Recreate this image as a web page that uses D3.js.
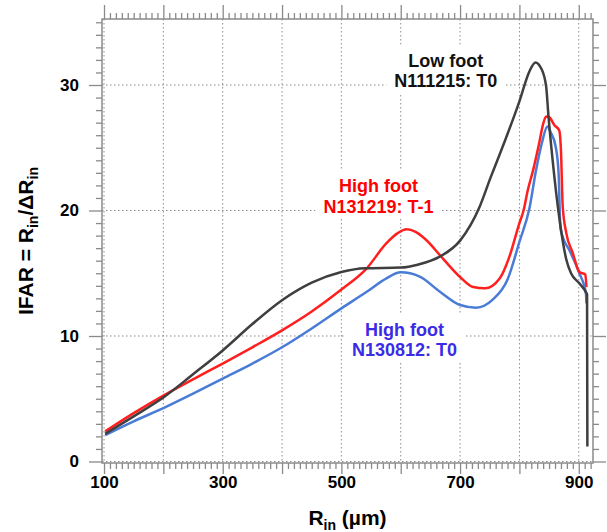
<!DOCTYPE html>
<html>
<head>
<meta charset="utf-8">
<script src="https://cdn.jsdelivr.net/npm/d3@7"></script>
<style>
    body { margin: 0; background: #fff; }
    svg { display: block; font-family: "Liberation Sans", Arial, sans-serif; }
</style>
</head>
<body>
<svg id="chart" width="607" height="532"></svg>
<script>
// IFAR vs inner radius, three shots

// Low foot N111215: T0
const rLowFoot = [102, 150, 200, 250, 300, 350, 400, 450, 500, 540, 600, 630, 665, 700, 733, 752, 767, 800, 817, 827, 837, 845, 849, 856, 867, 879, 887, 901, 912, 914, 914.5];
const ifarLowFoot = [2.2, 3.6, 5.1, 6.95, 8.85, 10.95, 12.85, 14.25, 15.1, 15.4, 15.45, 15.7, 16.3, 17.6, 20.3, 22.7, 24.5, 28.7, 31.1, 31.8, 31.3, 29.9, 27.5, 24.0, 19.5, 16.1, 15.0, 14.2, 13.5, 13.3, 1.2];

// High foot N131219: T-1
const rHighFootT1 = [102, 150, 200, 250, 300, 350, 400, 450, 500, 542, 576, 595, 610, 625, 643, 666, 700, 722, 742, 767, 783, 800, 807, 814, 823, 833, 840, 845, 851, 859, 867, 870, 873, 879, 890, 901, 911, 913];
const ifarHighFootT1 = [2.4, 3.85, 5.25, 6.55, 7.8, 9.1, 10.45, 11.95, 13.7, 15.35, 17.4, 18.2, 18.5, 18.3, 17.65, 16.45, 14.7, 13.9, 13.8, 14.6, 16.3, 19.0, 20.0, 21.6, 23.2, 25.3, 26.9, 27.5, 27.4, 26.8, 26.4, 24.8, 20.3, 18.2, 16.6, 15.1, 14.9, 13.9];

// High foot N130812: T0
const rHighFootT0 = [102, 150, 200, 250, 300, 350, 400, 450, 500, 542, 576, 600, 632, 666, 700, 727, 755, 780, 800, 817, 828, 838, 847, 853, 861, 866, 869, 873, 884, 901, 912, 913];
const ifarHighFootT0 = [2.1, 3.2, 4.25, 5.4, 6.6, 7.8, 9.1, 10.6, 12.2, 13.5, 14.6, 15.07, 14.73, 13.53, 12.47, 12.26, 12.9, 14.5, 17.5, 20.2, 23.2, 25.4, 26.7, 26.2, 25.1, 23.0, 18.7, 17.9, 16.85, 15.0, 13.4, 12.6];

// axis labels and annotation texts
const xTickLabels = [100, 300, 500, 700, 900];
const yTickLabels = [0, 10, 20, 30];
const shotLabels = [
    ['Low foot', 'N111215: T0'],
    ['High foot', 'N131219: T-1'],
    ['High foot', 'N130812: T0']
];

const svg = d3.select('#chart');
const margin = { top: 19, right: 14, bottom: 69, left: 102 };
const width = 607 - margin.left - margin.right;
const height = 532 - margin.top - margin.bottom;

const g = svg.append('g')
    .attr('transform', `translate(${margin.left}, ${margin.top})`);

const xScale = d3.scaleLinear().domain([96.6, 924]).range([0, width]);
const yScale = d3.scaleLinear().domain([-0.12, 35.26]).range([height, 0]);

const xMajor = d3.range(100, 901, 100);
const xMinor = d3.range(100, 921, 10).filter(d => d % 100 !== 0);
const yMajor = d3.range(0, 31, 10);
const yMinor = d3.range(0, 36, 1).filter(d => d % 10 !== 0);

// dotted grid
g.append('g').selectAll('line')
    .data(xMajor)
    .join('line')
    .attr('x1', d => xScale(d)).attr('x2', d => xScale(d))
    .attr('y1', 0).attr('y2', height)
    .attr('stroke', '#8c8c8c')
    .attr('stroke-width', 1)
    .attr('stroke-dasharray', '1.5,2.5');

g.append('g').selectAll('line')
    .data(yMajor)
    .join('line')
    .attr('x1', 0).attr('x2', width)
    .attr('y1', d => yScale(d)).attr('y2', d => yScale(d))
    .attr('stroke', '#8c8c8c')
    .attr('stroke-width', 1)
    .attr('stroke-dasharray', '1.5,2.5');

// ticks on all four sides
function styleAxis(sel) {
    sel.select('.domain').remove();
    sel.selectAll('.tick line').attr('stroke', '#8a8a8a').attr('stroke-width', 1.3);
    sel.selectAll('.tick text')
        .attr('fill', '#000')
        .style('font-size', '17px')
        .style('font-weight', 'bold')
        .style('font-family', '"Liberation Sans", Arial, sans-serif');
}

g.append('g')
    .attr('transform', `translate(0, ${height})`)
    .call(d3.axisBottom(xScale).tickValues(xMajor).tickSize(11).tickPadding(2)
        .tickFormat(d => xTickLabels.includes(d) ? d : ''))
    .call(styleAxis);
g.append('g')
    .attr('transform', `translate(0, ${height})`)
    .call(d3.axisBottom(xScale).tickValues(xMinor).tickSize(6).tickFormat(''))
    .call(styleAxis);
g.append('g')
    .call(d3.axisTop(xScale).tickValues(xMajor).tickSize(14).tickFormat(''))
    .call(styleAxis);
g.append('g')
    .call(d3.axisTop(xScale).tickValues(xMinor).tickSize(6).tickFormat(''))
    .call(styleAxis);

g.append('g')
    .call(d3.axisLeft(yScale).tickValues(yMajor).tickSize(13).tickPadding(10)
        .tickFormat(d => yTickLabels.includes(d) ? d : ''))
    .call(styleAxis);
g.append('g')
    .call(d3.axisLeft(yScale).tickValues(yMinor).tickSize(6).tickFormat(''))
    .call(styleAxis);
g.append('g')
    .attr('transform', `translate(${width}, 0)`)
    .call(d3.axisRight(yScale).tickValues(yMajor).tickSize(13).tickFormat(''))
    .call(styleAxis);
g.append('g')
    .attr('transform', `translate(${width}, 0)`)
    .call(d3.axisRight(yScale).tickValues(yMinor).tickSize(6).tickFormat(''))
    .call(styleAxis);

// frame
g.append('rect')
    .attr('width', width)
    .attr('height', height)
    .attr('fill', 'none')
    .attr('stroke', '#8a8a8a')
    .attr('stroke-width', 1.5);

// shot annotations, white box behind the text hides the grid
const annotations = [
    { lines: shotLabels[0], color: '#111111', x: 676, y: 31.46 },
    { lines: shotLabels[1], color: '#ff0000', x: 562.5, y: 21.47 },
    { lines: shotLabels[2], color: '#3b2be6', x: 606.4, y: 10.0 }
];

annotations.forEach(a => {
    const box = g.append('g');
    const txt = box.append('text')
        .attr('x', xScale(a.x))
        .attr('y', yScale(a.y))
        .attr('text-anchor', 'middle')
        .attr('fill', a.color)
        .style('font-size', '18px')
        .style('font-weight', 'bold');
    a.lines.forEach((line, i) => {
        txt.append('tspan')
            .attr('x', xScale(a.x))
            .attr('dy', i === 0 ? 0 : 20.5)
            .text(line);
    });
    const bb = txt.node().getBBox();
    box.insert('rect', 'text')
        .attr('x', bb.x - 8)
        .attr('y', bb.y - 6)
        .attr('width', bb.width + 16)
        .attr('height', bb.height + 8)
        .attr('fill', '#fff');
});

// curves
const line = d3.line()
    .x(d => xScale(d[0]))
    .y(d => yScale(d[1]))
    .curve(d3.curveMonotoneX);

const series = [
    { r: rHighFootT0, ifar: ifarHighFootT0, color: '#4a7bd6' },
    { r: rHighFootT1, ifar: ifarHighFootT1, color: '#ff1f1f' },
    { r: rLowFoot, ifar: ifarLowFoot, color: '#3f3f3f' }
];

series.forEach(s => {
    g.append('path')
        .datum(d3.zip(s.r, s.ifar))
        .attr('fill', 'none')
        .attr('stroke', s.color)
        .attr('stroke-width', 2.5)
        .attr('stroke-linejoin', 'round')
        .attr('d', line);
});

// axis titles
const xTitle = svg.append('text')
    .attr('x', margin.left + width / 2)
    .attr('y', 525)
    .attr('text-anchor', 'middle')
    .style('font-size', '21px')
    .style('font-weight', 'bold');
xTitle.append('tspan').text('R');
xTitle.append('tspan').attr('dy', 5).style('font-size', '14px').text('in');
xTitle.append('tspan').attr('dy', -5).text(' (µm)');

const yTitle = svg.append('text')
    .attr('transform', `translate(33, ${margin.top + height / 2}) rotate(-90)`)
    .attr('text-anchor', 'middle')
    .style('font-size', '21px')
    .style('font-weight', 'bold');
yTitle.append('tspan').text('IFAR = R');
yTitle.append('tspan').attr('dy', 5).style('font-size', '14px').text('in');
yTitle.append('tspan').attr('dy', -5).text('/ΔR');
yTitle.append('tspan').attr('dy', 5).style('font-size', '14px').text('in');
</script>
</body>
</html>
